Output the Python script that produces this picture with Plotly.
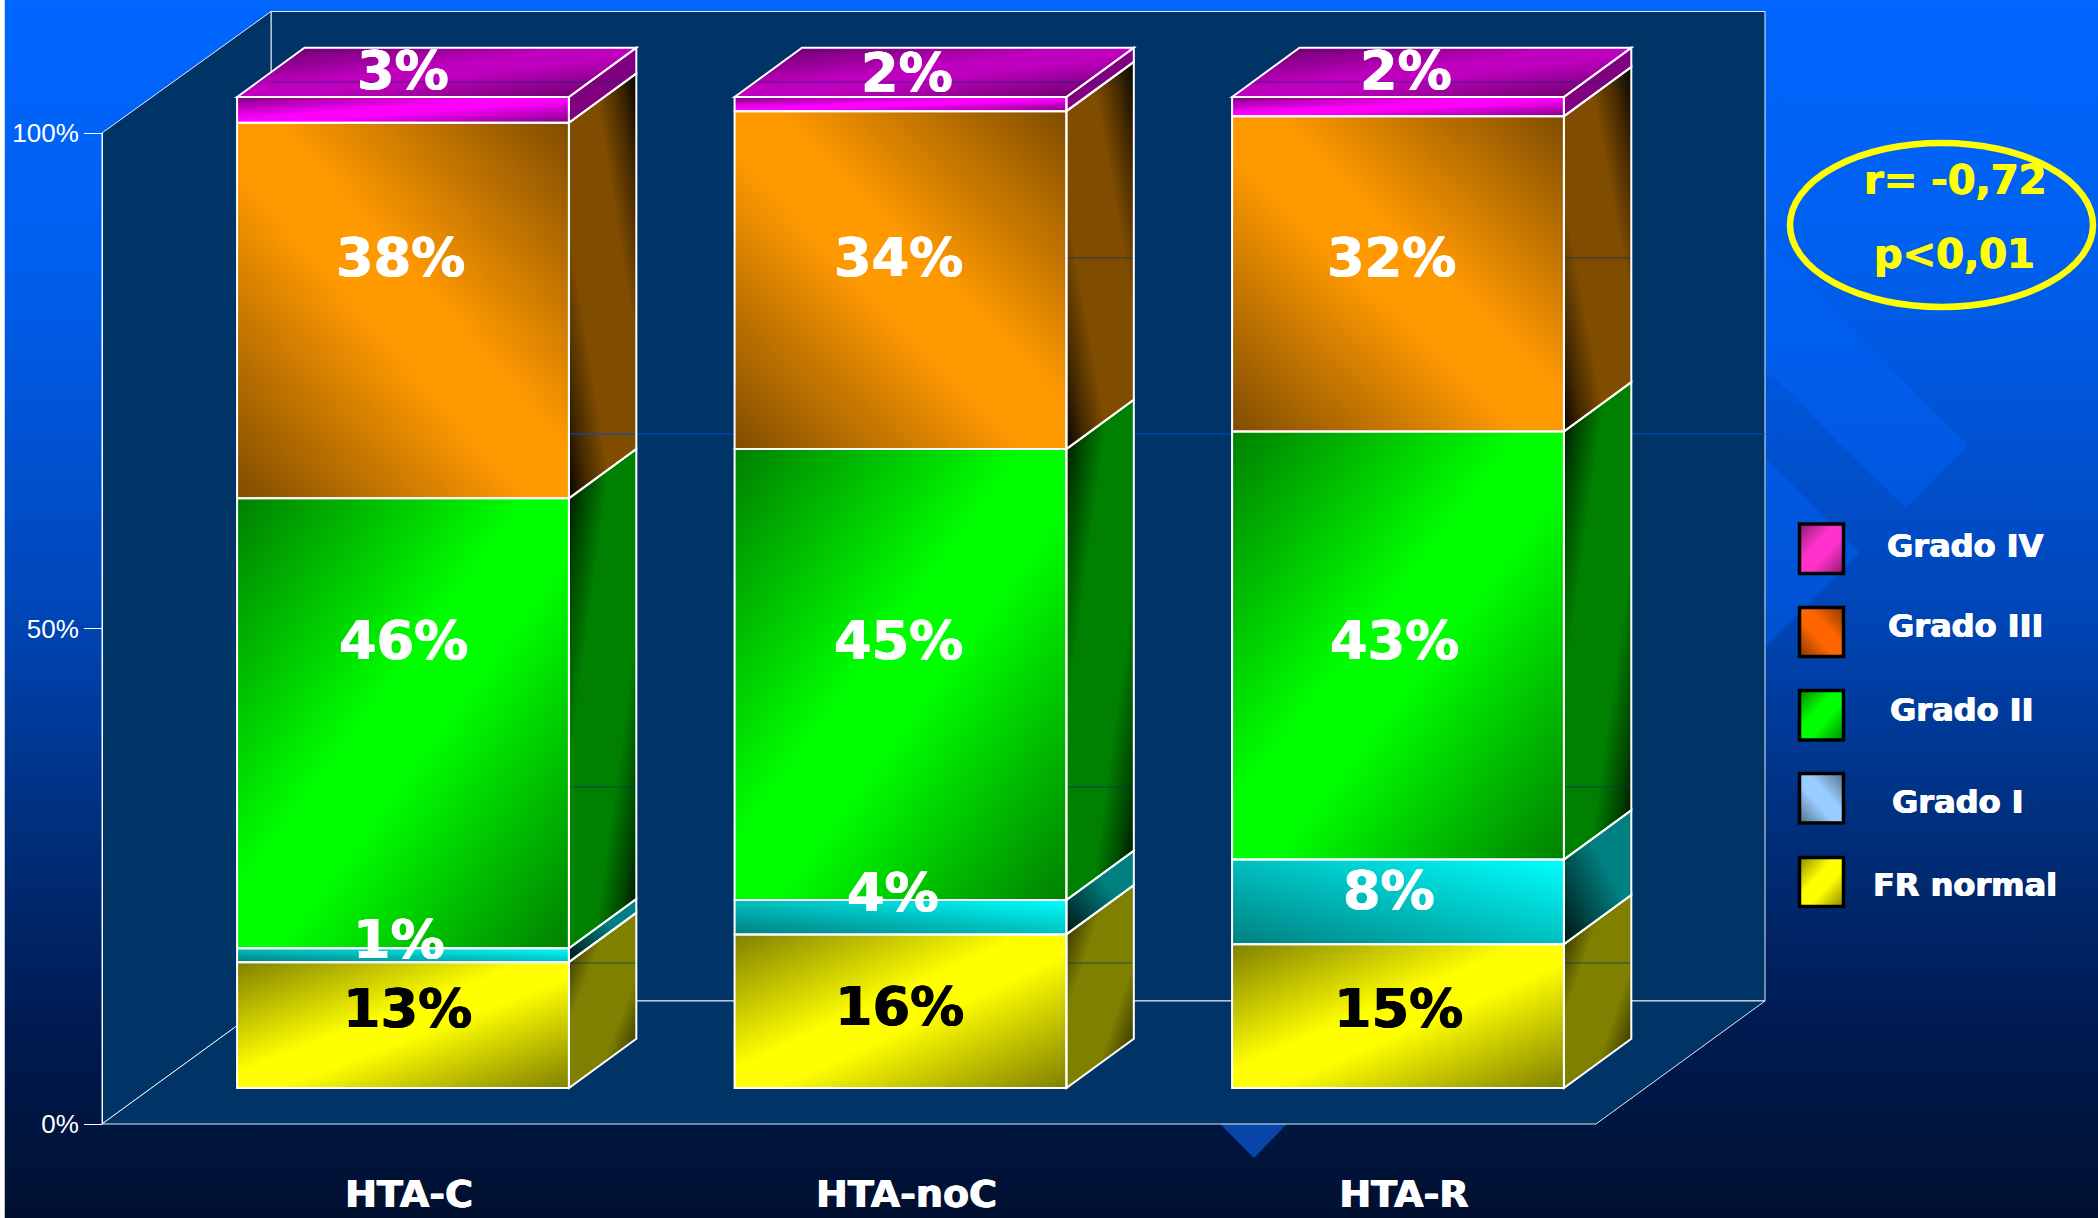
import base64
import plotly.graph_objects as go

W, H = 2098, 1218

# ---------- data ----------
categories = ["HTA-C", "HTA-noC", "HTA-R"]
category_positions = [0, 1, 2]
series_names = ["FR normal", "Grado I", "Grado II", "Grado III", "Grado IV"]
fr_normal = [12.7, 15.5, 14.5]
grado_i = [1.4, 3.47, 8.55]
grado_ii = [45.4, 45.5, 43.2]
grado_iii = [37.9, 34.1, 31.8]
grado_iv = [2.6, 1.43, 1.95]
series_values = [fr_normal, grado_i, grado_ii, grado_iii, grado_iv]
label_fr_normal = ["13%", "16%", "15%"]
label_grado_i = ["1%", "4%", "8%"]
label_grado_ii = ["46%", "45%", "43%"]
label_grado_iii = ["38%", "34%", "32%"]
label_grado_iv = ["3%", "2%", "2%"]
y_ticks = [0, 50, 100]
y_tick_labels = ["0%", "50%", "100%"]
legend_labels = ["Grado IV", "Grado III", "Grado II", "Grado I", "FR normal"]
stat_lines = ["r= -0,72", "p<0,01"]

# ---------- style ----------
front = ["#FFFF00", "#00FFFF", "#00FF00", "#FF9900", "#FF00FF"]
side = ["#808000", "#008080", "#008000", "#7F4C00", "#800080"]
top_col = "#BF00BF"
A = ((0, 0), (1, 1))      # dark top-left / bottom-right
B = ((1, 0), (0, 1))      # dark top-right / bottom-left
dual_f = [(0, .5), (.44, 0), (.56, 0), (1, .5)]
dual_s = [(0, .95), (.15, .45), (.32, 0), (.68, 0), (.85, .45), (1, .95)]
mono_f = [(0, 0), (1, .5)]
mono_s = [(0, 0), (.4, 0), (1, .85)]
direction = [A, B, A, B, A]
stops_f = [dual_f, mono_f, dual_f, dual_f, dual_f]
stops_s = [dual_s, mono_s, dual_s, dual_s, dual_s]
HEAVY_W = "0.6px 0 0 white, -0.6px 0 0 white"
HEAVY_K = "0.6px 0 0 black, -0.6px 0 0 black"
HEAVY_Y = "0.6px 0 0 #FFFF00, -0.6px 0 0 #FFFF00"

BW = 0.667                # bar width, category units
PX_CAT = 497.5            # px per category
PX_VAL = 9.91             # px per percent
X0_PX = 403.0
Y0_PX = 1088.0
DX = 67.4 / PX_CAT        # depth offset
DY = 49.3 / PX_VAL
x_range = [(0 - X0_PX) / PX_CAT, (W - X0_PX) / PX_CAT]
y_range = [(Y0_PX - H) / PX_VAL, Y0_PX / PX_VAL]


def uri(svg):
    return "data:image/svg+xml;base64," + base64.b64encode(svg.encode()).decode()


def px(x, y):
    return x / W, 1 - y / H


def shade_image(pts, dirn, stops, colour="#000"):
    """Gradient overlay for a polygon given in data coordinates."""
    xs = [p[0] for p in pts]
    ys = [p[1] for p in pts]
    x0, x1, y0, y1 = min(xs), max(xs), min(ys), max(ys)
    poly = " ".join(f"{(p[0]-x0)/(x1-x0)*100:.3f},{(y1-p[1])/(y1-y0)*100:.3f}" for p in pts)
    st = "".join(f'<stop offset="{o}" stop-color="{colour}" stop-opacity="{a}"/>' for o, a in stops)
    (a1, b1), (a2, b2) = dirn
    svg = (f'<svg xmlns="http://www.w3.org/2000/svg" width="100" height="100" viewBox="0 0 100 100" '
           f'preserveAspectRatio="none"><defs><linearGradient id="g" x1="{a1}" y1="{b1}" x2="{a2}" y2="{b2}">{st}'
           f'</linearGradient></defs><polygon points="{poly}" fill="url(#g)"/></svg>')
    return dict(source=uri(svg), xref="x", yref="y", x=x0, y=y1, sizex=x1 - x0, sizey=y1 - y0,
                xanchor="left", yanchor="top", sizing="stretch", layer="above")


def path(pts):
    return "M" + " L".join(f"{x:.5f},{y:.5f}" for x, y in pts) + " Z"


fig = go.Figure()
images, shapes_above, annotations = [], [], []

# background: sky gradient + template diamonds
bg_w = W - 4.5
def bx(x):
    return x - 4.5
bg_svg = (
    f'<svg xmlns="http://www.w3.org/2000/svg" width="{bg_w}" height="{H}" viewBox="0 0 {bg_w} {H}" preserveAspectRatio="none">'
    '<defs><linearGradient id="b" x1="0" y1="0" x2="0" y2="1">'
    '<stop offset="0" stop-color="#0066FF"/><stop offset=".2" stop-color="#0060F0"/>'
    '<stop offset=".5" stop-color="#0046B8"/><stop offset=".67" stop-color="#00307F"/>'
    '<stop offset=".85" stop-color="#001A50"/><stop offset="1" stop-color="#00102F"/>'
    '</linearGradient></defs>'
    f'<rect width="{bg_w}" height="{H}" fill="url(#b)"/>'
    f'<polygon points="{bx(1766)},242 {bx(1968)},445 {bx(1905)},508 {bx(1766)},370" fill="#0066FF" fill-opacity=".4"/>'
    f'<polygon points="{bx(1766)},458 {bx(1860)},553 {bx(1766)},647" fill="#0066FF" fill-opacity=".4"/>'
    f'<polygon points="{bx(1220)},1124 {bx(1287)},1124 {bx(1254)},1158" fill="#0845A8"/>'
    '</svg>'
)
images.append(dict(source=uri(bg_svg), xref="paper", yref="paper", x=4.5 / W, y=1, sizex=bg_w / W, sizey=1,
                   xanchor="left", yanchor="top", sizing="stretch", layer="below"))

# chart walls and floor
WALL = "#003366"
def poly_paper(pts):
    return "M" + " L".join(f"{px(x,y)[0]:.6f},{px(x,y)[1]:.6f}" for x, y in pts) + " Z"
wall_shapes = []
for pts in ([(271, 11.5), (1765, 11.5), (1765, 1001), (271, 1001)],
            [(102, 133), (271, 11.5), (271, 1001), (102, 1124)],
            [(102, 1124), (271, 1001), (1765, 1001), (1596, 1124)]):
    wall_shapes.append(dict(type="path", xref="paper", yref="paper", path=poly_paper(pts), fillcolor=WALL,
                            line=dict(color="rgba(255,255,255,.9)", width=1), layer="below"))

# stacked bars, drawn by the library
for s, name in enumerate(series_names):
    fig.add_trace(go.Bar(x=category_positions, y=series_values[s], name=name, width=BW,
                         marker=dict(color=front[s], line=dict(width=0)), showlegend=False, hoverinfo="skip"))

# right and top faces, overlays and outlines derived from the same values
outline_paths = []
for i in category_positions:
    cum = 0.0
    xl, xr = i - BW / 2, i + BW / 2
    for s in range(len(series_names)):
        v = series_values[s][i]
        lo, hi = cum, cum + v
        cum = hi
        poly_side = [(xr, hi), (xr + DX, hi + DY), (xr + DX, lo + DY), (xr, lo)]
        poly_front = [(xl, hi), (xr, hi), (xr, lo), (xl, lo)]
        fig.add_trace(go.Scatter(x=[p[0] for p in poly_side] + [xr], y=[p[1] for p in poly_side] + [hi],
                                 mode="lines", fill="toself", fillcolor=side[s], line=dict(width=0),
                                 showlegend=False, hoverinfo="skip"))
        images.append(shade_image(poly_front, direction[s], stops_f[s]))
        images.append(shade_image(poly_side, direction[s], stops_s[s]))
        outline_paths += [path(poly_side), path(poly_front)]
    poly_top = [(xl, cum), (xl + DX, cum + DY), (xr + DX, cum + DY), (xr, cum)]
    fig.add_trace(go.Scatter(x=[p[0] for p in poly_top] + [xl], y=[p[1] for p in poly_top] + [cum],
                             mode="lines", fill="toself", fillcolor=top_col, line=dict(width=0),
                             showlegend=False, hoverinfo="skip"))
    images.append(shade_image(poly_top, A, dual_f))
    outline_paths.append(path(poly_top))

# faint gridlines that show over side faces
FAINT = "rgba(0,51,102,.7)"
grid_segments = [(82, 271, 1631, "rgba(0,51,102,.6)"), (258, 1065, 1132, FAINT), (258, 1564, 1631, FAINT),
                 (434, 569, 733, "#0050D0"), (434, 1132, 1232, "#0050D0"), (434, 1631, 1765, "#0050D0"),
                 (787, 569, 636, FAINT), (787, 1065, 1132, FAINT), (787, 1564, 1631, FAINT),
                 (963, 569, 636, FAINT), (963, 1065, 1132, FAINT), (963, 1564, 1631, FAINT)]
for y, a, b, c in grid_segments:
    shapes_above.append(dict(type="line", xref="paper", yref="paper", x0=a / W, x1=b / W, y0=1 - y / H, y1=1 - y / H,
                             line=dict(color=c, width=1), layer="above"))
for p in outline_paths:
    shapes_above.append(dict(type="path", xref="x", yref="y", path=p, line=dict(color="white", width=2),
                             fillcolor="rgba(0,0,0,0)", layer="above"))

# axis with tick labels on the chart's front plane
fig.add_trace(go.Scatter(x=[0, 0, 0], y=y_ticks, yaxis="y2", mode="markers", marker=dict(opacity=0, size=1),
                         showlegend=False, hoverinfo="skip"))

# percentage labels (hand-placed in the original)
label_rows = [
    (label_fr_normal, [(407, 1008), (899, 1006), (1398, 1008)], "black", HEAVY_K),
    (label_grado_i, [(399, 939), (893, 892), (1389, 890)], "white", HEAVY_W),
    (label_grado_ii, [(403, 640), (898, 640), (1394, 640)], "white", HEAVY_W),
    (label_grado_iii, [(400, 258), (898, 258), (1391, 258)], "white", HEAVY_W),
    (label_grado_iv, [(403, 70), (907, 72), (1406, 71)], "white", HEAVY_W),
]
for texts, places, colour, heavy in label_rows:
    for t, (x, y) in zip(texts, places):
        fx, fy = px(x, y)
        annotations.append(dict(text=t, x=fx, y=fy, xref="paper", yref="paper", showarrow=False,
                                xanchor="center", yanchor="middle",
                                font=dict(family="DejaVu Sans", size=54, color=colour, weight="bold", shadow=heavy)))

# statistics
for t, (x, y) in zip(stat_lines, [(1955, 180), (1954, 254)]):
    fx, fy = px(x, y)
    annotations.append(dict(text=t, x=fx, y=fy, xref="paper", yref="paper", showarrow=False,
                            xanchor="center", yanchor="middle",
                            font=dict(family="DejaVu Sans", size=40, color="#FFFF00", weight="bold", shadow=HEAVY_Y)))
shapes_above.append(dict(type="circle", xref="paper", yref="paper", x0=1790 / W, x1=2093 / W,
                         y0=1 - 307 / H, y1=1 - 143 / H, line=dict(color="#FFFF00", width=6.5), layer="above"))

# legend
swatch_cols = ["#FF33CC", "#FF6600", "#00FF00", "#99CCFF", "#FFFF00"]
swatch_dirs = [A, B, A, B, A]
swatch_y = [(522.5, 575), (606, 658), (689, 741.5), (772, 824.5), (856, 908)]
text_pos = [(1965, 546), (1965, 626), (1961, 710), (1958, 802), (1965, 885)]
for lab, col, d, (y0, y1), (tx, ty) in zip(legend_labels, swatch_cols, swatch_dirs, swatch_y, text_pos):
    svg = (f'<svg xmlns="http://www.w3.org/2000/svg" width="100" height="100" viewBox="0 0 100 100" preserveAspectRatio="none">'
           f'<defs><linearGradient id="g" x1="{d[0][0]}" y1="{d[0][1]}" x2="{d[1][0]}" y2="{d[1][1]}">'
           f'<stop offset="0" stop-color="#000" stop-opacity=".5"/><stop offset=".4" stop-color="#000" stop-opacity="0"/>'
           f'<stop offset=".6" stop-color="#000" stop-opacity="0"/><stop offset="1" stop-color="#000" stop-opacity=".5"/>'
           f'</linearGradient></defs><rect width="100" height="100" fill="{col}"/><rect width="100" height="100" fill="url(#g)"/></svg>')
    images.append(dict(source=uri(svg), xref="paper", yref="paper", x=1798 / W, y=1 - y0 / H, sizex=47 / W,
                       sizey=(y1 - y0) / H, xanchor="left", yanchor="top", sizing="stretch", layer="above"))
    shapes_above.append(dict(type="rect", xref="paper", yref="paper", x0=1799.5 / W, x1=1843.5 / W,
                             y0=1 - (y1 - 1.5) / H, y1=1 - (y0 + 1.5) / H, line=dict(color="black", width=3.5),
                             fillcolor="rgba(0,0,0,0)", layer="above"))
    fx, fy = px(tx, ty)
    annotations.append(dict(text=lab, x=fx, y=fy, xref="paper", yref="paper", showarrow=False,
                            xanchor="center", yanchor="middle",
                            font=dict(family="DejaVu Sans", size=32, color="white", weight="bold", shadow=HEAVY_W)))

fig.update_layout(
    width=W, height=H, barmode="stack", bargap=0,
    margin=dict(l=0, r=0, t=0, b=0, pad=0),
    paper_bgcolor="white", plot_bgcolor="rgba(0,0,0,0)",
    images=images, shapes=wall_shapes + shapes_above, annotations=annotations,
    xaxis=dict(domain=[0, 1], range=x_range, anchor="free", position=1 - 1168 / H, automargin=False,
               showgrid=False, zeroline=False, showline=False, ticks="", ticklabelshift=6,
               tickmode="array", tickvals=category_positions, ticktext=categories,
               tickfont=dict(family="DejaVu Sans", size=38, color="white", weight="bold", shadow=HEAVY_W)),
    yaxis=dict(domain=[0, 1], range=y_range, visible=False, showgrid=False, zeroline=False, automargin=False),
    yaxis2=dict(domain=[1 - 1124 / H, 1 - 133 / H], range=[0, 100], anchor="free", position=102 / W, automargin=False,
                tickmode="array", tickvals=y_ticks, ticktext=y_tick_labels, ticks="outside", ticklen=18,
                tickcolor="white", tickwidth=1, showline=True, linecolor="white", linewidth=1,
                showgrid=False, zeroline=False,
                tickfont=dict(family="Liberation Sans", size=26, color="white")),
)
fig.write_html("out.html", config={"displayModeBar": False},
               post_script="document.body.style.margin='0';document.body.style.overflow='hidden';")
